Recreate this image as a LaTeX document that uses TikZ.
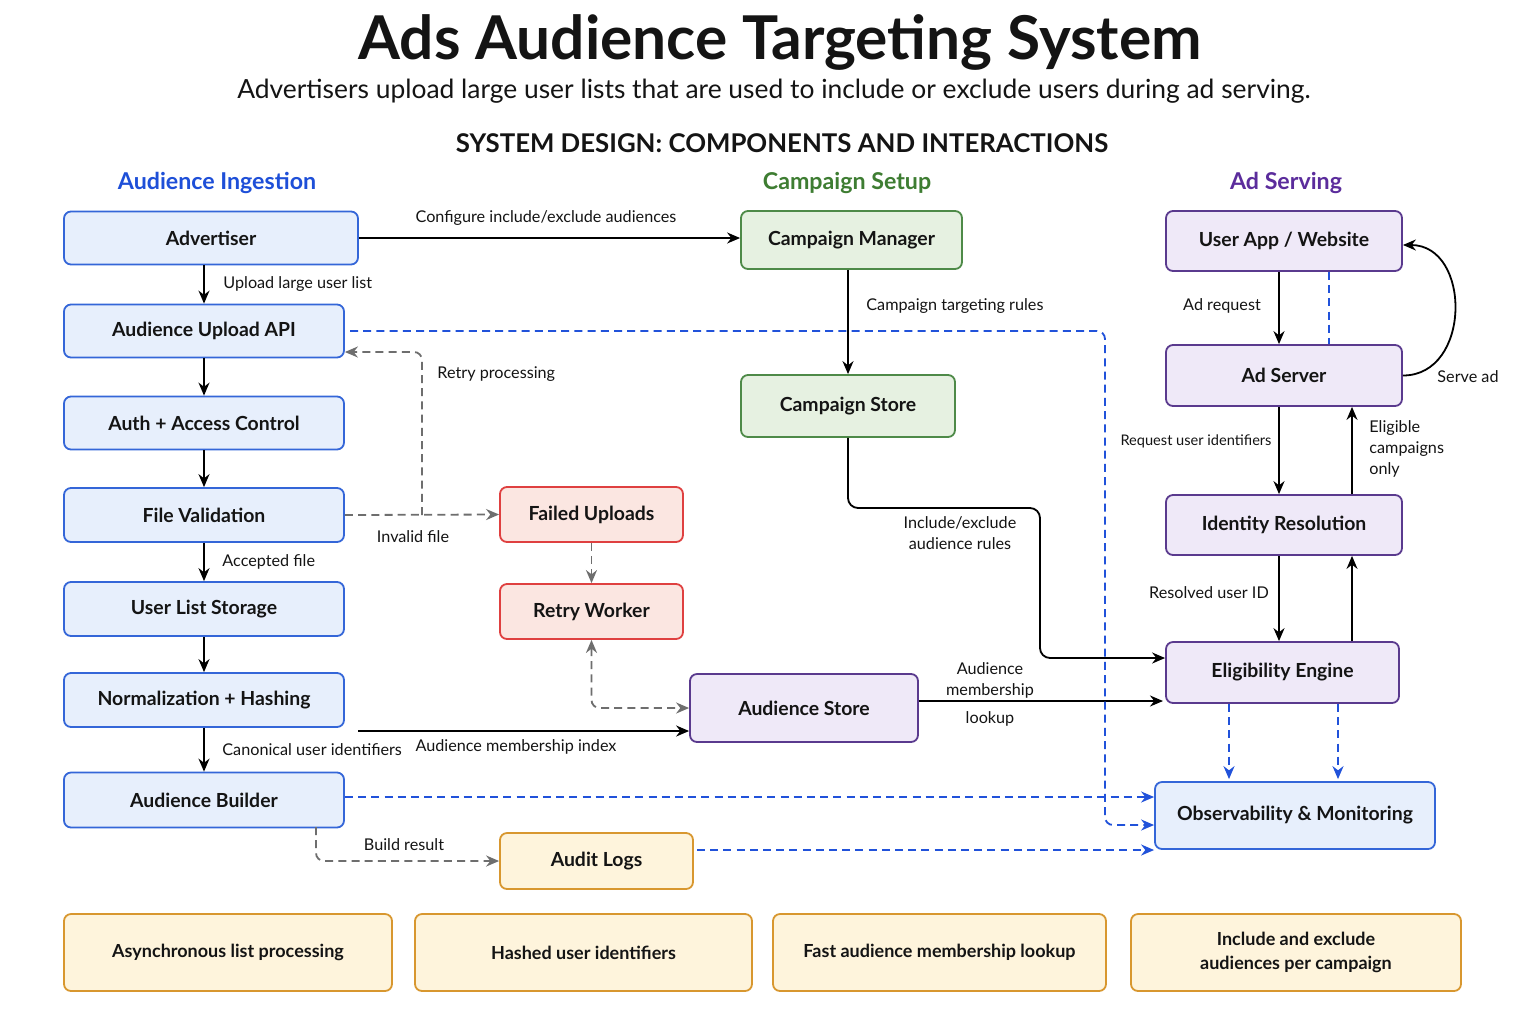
\documentclass[tikz,border=0pt]{standalone}
\usepackage{fontspec}
\setmainfont{Lato}
\usetikzlibrary{arrows.meta}
\definecolor{ingB}{HTML}{3466D8}
\definecolor{ingF}{HTML}{E7EFFC}
\definecolor{campB}{HTML}{4E8A48}
\definecolor{campF}{HTML}{E6F1E1}
\definecolor{srvB}{HTML}{5A3A8E}
\definecolor{srvF}{HTML}{EFE9F8}
\definecolor{failB}{HTML}{DF4040}
\definecolor{failF}{HTML}{FBE6E1}
\definecolor{noteB}{HTML}{D8972F}
\definecolor{noteF}{HTML}{FEF4DC}
\definecolor{dashB}{HTML}{2152DA}
\definecolor{dashG}{HTML}{6E6E6E}
\definecolor{hIng}{HTML}{1E4FD8}
\definecolor{hCamp}{HTML}{3E7D32}
\definecolor{hSrv}{HTML}{5B2C9C}
\definecolor{txt}{HTML}{141414}
\newcommand\myboxfont{\fontsize{9.7}{11.5}\selectfont\bfseries}
\newcommand\mynotefont{\fontsize{9}{12}\selectfont\bfseries}
\newcommand\mylblfont{\fontsize{8.1}{10.5}\selectfont}
\begin{document}
\begin{tikzpicture}[x=0.5pt,y=-0.5pt,
  box/.style={draw, rounded corners=3.5pt, line width=0.9pt, align=center, inner sep=2pt, font=\myboxfont, text=txt},
  ing/.style={box, draw=ingB, fill=ingF, minimum width=140pt, minimum height=26.5pt},
  camp/.style={box, draw=campB, fill=campF},
  srv/.style={box, draw=srvB, fill=srvF},
  fail/.style={box, draw=failB, fill=failF, minimum width=91.5pt, minimum height=27.5pt},
  note/.style={box, draw=noteB, fill=noteF, font=\mynotefont},
  arr/.style={-{Stealth[length=6.5pt,width=5.5pt]}, line width=0.9pt, draw=black},
  bdash/.style={-{Stealth[length=6.5pt,width=5.5pt]}, line width=0.9pt, draw=dashB, dash pattern=on 4pt off 2.6pt},
  bline/.style={line width=0.9pt, draw=dashB, dash pattern=on 4pt off 2.6pt},
  gdash/.style={-{Stealth[length=6.5pt,width=5.5pt]}, line width=0.9pt, draw=dashG, dash pattern=on 4pt off 2.6pt},
  lbl/.style={font=\mylblfont, inner sep=1pt, text=txt, align=center},
  hdr/.style={font=\fontsize{11.6}{14}\selectfont\bfseries}
]
\useasboundingbox[fill=white] (0,0) rectangle (1536,1024);

% titles
\node[font=\fontsize{30.2}{34}\selectfont\bfseries, text=txt] (title) at (780,42) {Ads Audience Targeting System};
\node[font=\fontsize{13.2}{15}\selectfont, text=txt] (sub) at (774,91) {Advertisers upload large user lists that are used to include or exclude users during ad serving.};
\node[font=\fontsize{12.9}{15}\selectfont\bfseries, text=txt] (sd) at (782,143) {SYSTEM DESIGN: COMPONENTS AND INTERACTIONS};
\node[hdr, text=hIng] (h1) at (217,183) {Audience Ingestion};
\node[hdr, text=hCamp] (h2) at (847,183) {Campaign Setup};
\node[hdr, text=hSrv] (h3) at (1286,183) {Ad Serving};

% ingestion column
\node[ing, minimum width=147pt] (adv) at (211,238) {Advertiser};
\node[ing] (api) at (204,331) {Audience Upload API};
\node[ing] (auth) at (204,423) {Auth + Access Control};
\node[ing, minimum height=27pt] (fval) at (204,515) {File Validation};
\node[ing, minimum height=27pt] (uls) at (204,609) {User List Storage};
\node[ing, minimum height=27pt] (norm) at (204,700) {Normalization + Hashing};
\node[ing, minimum height=27.5pt] (build) at (204,800) {Audience Builder};

% failure handling
\node[fail] (failed) at (591.5,514.5) {Failed Uploads};
\node[fail] (retry) at (591.5,611.5) {Retry Worker};
\node[note, font=\myboxfont, minimum width=96.5pt, minimum height=28pt] (audit) at (596.5,861) {Audit Logs};

% campaign setup
\node[camp, minimum width=110.5pt, minimum height=29pt] (cmgr) at (851.5,240) {Campaign Manager};
\node[camp, minimum width=107pt, minimum height=31pt] (cstore) at (848,406) {Campaign Store};
\node[srv, minimum width=114pt, minimum height=34pt] (astore) at (804,708) {Audience Store};

% ad serving
\node[srv, minimum width=118pt, minimum height=30pt] (uapp) at (1284,241) {User App / Website};
\node[srv, minimum width=118pt, minimum height=30.5pt] (adsrv) at (1284,375.5) {Ad Server};
\node[srv, minimum width=118pt, minimum height=30pt] (idres) at (1284,525) {Identity Resolution};
\node[srv, minimum width=116.5pt, minimum height=30.5pt] (elig) at (1282.5,672.5) {Eligibility Engine};
\node[box, draw=ingB, fill=ingF, minimum width=140pt, minimum height=33.5pt] (obs) at (1295,815.5) {Observability \& Monitoring};

% bottom notes
\node[note, minimum width=164pt, minimum height=38.5pt] (n1) at (228,952.5) {Asynchronous list processing};
\node[note, minimum width=168.5pt, minimum height=38.5pt] (n2) at (583.5,952.5) {Hashed user identifiers};
\node[note, minimum width=166.5pt, minimum height=38.5pt] (n3) at (939.5,952.5) {Fast audience membership lookup};
\node[note, minimum width=165pt, minimum height=38.5pt] (n4) at (1296,952.5) {Include and exclude\\audiences per campaign};

% helper coordinates
\coordinate (xL) at (1279,0);
\coordinate (xR) at (1352,0);
\coordinate (xB) at (1329,0);
\coordinate (xO1) at (1229,0);
\coordinate (xO2) at (1338,0);
\coordinate (junc) at (422,515);
\coordinate (retryTop) at (422,352);
\coordinate (idxStart) at (358,731);
\coordinate (ruleTurn) at (1040,508);
\coordinate (ruleIn) at (1040,658);
\coordinate (lookIn) at (1163,701);
\coordinate (apiOut) at (350,331);
\coordinate (obsTurn) at (1105,825);
\coordinate (auditOut) at (697,850);
\coordinate (buildOut) at (316,827);

% ingestion flow
\draw[arr] (adv.east) -- (cmgr.west |- adv.east);
\node[lbl] (l1) at (546,218) {Configure include/exclude audiences};
\draw[arr] (api.north |- adv.south) -- (api.north);
\node[lbl, anchor=west] (l2) at (221,284) {Upload large user list};
\draw[arr] (api) -- (auth);
\draw[arr] (auth) -- (fval);
\draw[arr] (fval) -- (uls);
\node[lbl, anchor=west] (l3) at (220,562) {Accepted file};
\draw[arr] (uls) -- (norm);
\draw[arr] (norm) -- (build);
\node[lbl, anchor=west] (l4) at (220,750) {Canonical user identifiers};
\draw[arr] (idxStart) -- (astore.west |- idxStart);
\node[lbl] (l5) at (516,747) {Audience membership index};

% failure paths
\draw[gdash] (fval.east) -- (failed.west);
\node[lbl] (l6) at (413,537) {Invalid file};
\draw[gdash, rounded corners=4pt] (junc) -- (retryTop) -- (api.east |- retryTop);
\node[lbl, anchor=west] (l7) at (435,374) {Retry processing};
\draw[gdash] (failed) -- (retry);
\draw[gdash, {Stealth[length=6.5pt,width=5.5pt]}-{Stealth[length=6.5pt,width=5.5pt]}, rounded corners=4pt] (retry.south) |- (astore.west);
\draw[gdash, rounded corners=4pt] (buildOut) |- (audit.west);
\node[lbl] (l8) at (404,845) {Build result};

% campaign setup
\draw[arr] (cstore.north |- cmgr.south) -- (cstore.north);
\node[lbl, anchor=west] (l9) at (864,306) {Campaign targeting rules};
\draw[arr, rounded corners=5pt] (cstore.south) |- (ruleTurn) -- (ruleIn) -- (elig.west |- ruleIn);
\node[lbl] (l10) at (960,533) {Include/exclude\\audience rules};
\draw[arr] (astore.east |- lookIn) -- (lookIn);
\node[lbl] (l11) at (990,680) {Audience\\membership};
\node[lbl] (l12) at (990,719) {lookup};

% ad serving
\draw[arr] (uapp.south -| xL) -- (adsrv.north -| xL);
\node[lbl] (l13) at (1222,306) {Ad request};
\draw[bline] (uapp.south -| xB) -- (adsrv.north -| xB);
\draw[arr] (adsrv.east) to[out=0, in=0, looseness=1.35] ([yshift=-2pt]uapp.east);
\node[lbl] (l14) at (1468,377) {Serve ad};
\draw[arr] (adsrv.south -| xL) -- (idres.north -| xL);
\node[lbl, font=\fontsize{7.3}{9}\selectfont] (l15) at (1196,441) {Request user identifiers};
\draw[arr] (idres.north -| xR) -- (adsrv.south -| xR);
\node[lbl, anchor=west, align=left] (l16) at (1367,449) {Eligible\\campaigns\\only};
\draw[arr] (idres.south -| xL) -- (elig.north -| xL);
\node[lbl] (l17) at (1209,593) {Resolved user ID};
\draw[arr] (elig.north -| xR) -- (idres.south -| xR);

% observability
\draw[bdash] (elig.south -| xO1) -- ([yshift=1pt]obs.north -| xO1);
\draw[bdash] (elig.south -| xO2) -- ([yshift=1pt]obs.north -| xO2);
\draw[bdash, rounded corners=4pt] (apiOut) -| (obsTurn) -- (obs.west |- obsTurn);
\draw[bdash] ([yshift=1.5pt]build.east) -- (obs.west |- 0,797);
\draw[bdash] (auditOut) -- (obs.west |- auditOut);
\end{tikzpicture}
\end{document}
